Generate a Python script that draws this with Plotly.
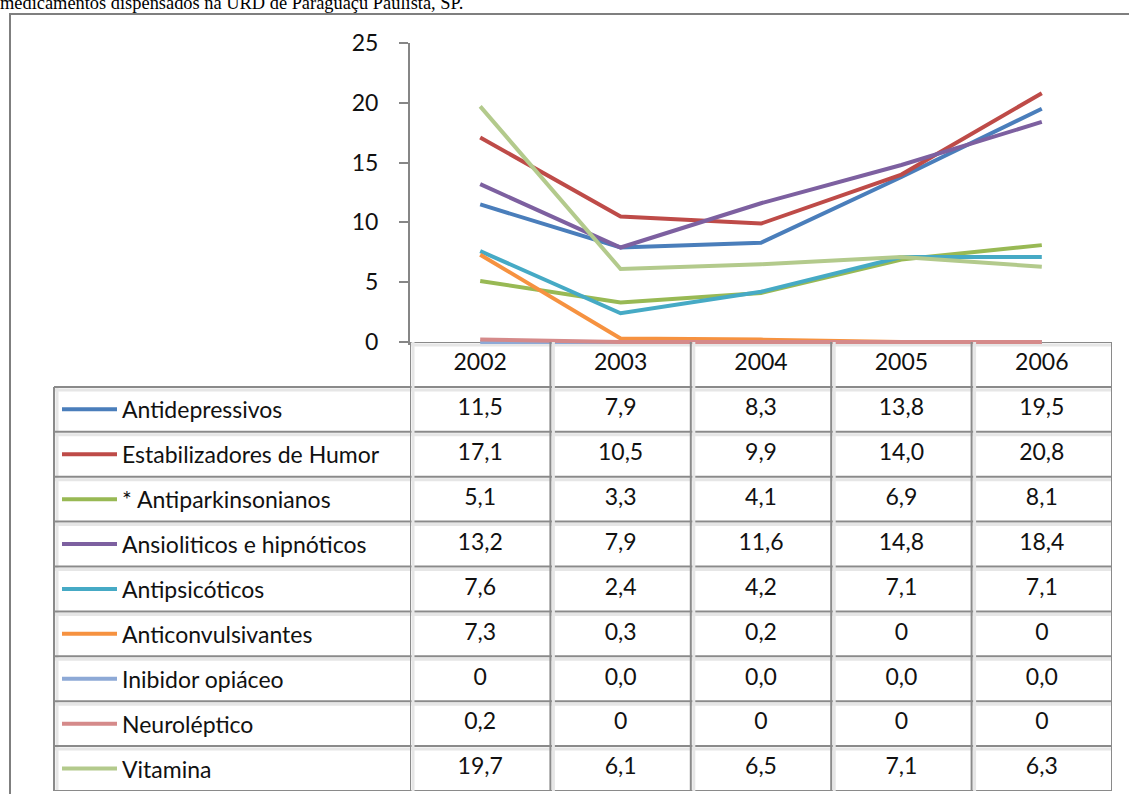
import plotly.graph_objects as go

W, H = 1129, 794

anos = ["2002", "2003", "2004", "2005", "2006"]

# valores como aparecem na tabela
antidepressivos = ["11,5", "7,9", "8,3", "13,8", "19,5"]
estabilizadores = ["17,1", "10,5", "9,9", "14,0", "20,8"]
antiparkinsonianos = ["5,1", "3,3", "4,1", "6,9", "8,1"]
ansioliticos = ["13,2", "7,9", "11,6", "14,8", "18,4"]
antipsicoticos = ["7,6", "2,4", "4,2", "7,1", "7,1"]
anticonvulsivantes = ["7,3", "0,3", "0,2", "0", "0"]
inibidor = ["0", "0,0", "0,0", "0,0", "0,0"]
neuroleptico = ["0,2", "0", "0", "0", "0"]
vitamina = ["19,7", "6,1", "6,5", "7,1", "6,3"]

nomes = ["Antidepressivos", "Estabilizadores de Humor", "* Antiparkinsonianos",
         "Ansioliticos e hipnóticos", "Antipsicóticos", "Anticonvulsivantes",
         "Inibidor opiáceo", "Neuroléptico", "Vitamina"]
series = [antidepressivos, estabilizadores, antiparkinsonianos, ansioliticos,
          antipsicoticos, anticonvulsivantes, inibidor, neuroleptico, vitamina]
cores = ["#4A7EBB", "#BE4B48", "#98B954", "#7D60A0", "#46AAC5",
         "#F69240", "#8DA9D6", "#D58A8A", "#B3CA8C"]

yticks = [0, 5, 10, 15, 20, 25]

FONT = "Lato"
FSIZE = 23
GRID = "#8A8A8A"
SHADOW = "#E6E6E6"


def px(x):
    return x / W


def py(y):
    return 1 - y / H


def num(s):
    return float(s.replace(",", "."))


fig = go.Figure()

# linhas do gráfico
for nome, vals, cor in zip(nomes, series, cores):
    fig.add_trace(go.Scatter(x=anos, y=[num(v) for v in vals], mode="lines", name=nome,
                             line=dict(color=cor, width=4), xaxis="x", yaxis="y",
                             hoverinfo="skip"))

# tabela de dados: cabeçalho (linha 0) + uma linha por série
fig.add_trace(go.Scatter(x=anos, y=[0] * len(anos), text=anos, mode="text",
                         textfont=dict(family=FONT, size=FSIZE, color="#111"),
                         xaxis="x", yaxis="y2", cliponaxis=False, hoverinfo="skip"))
for i, vals in enumerate(series, start=1):
    fig.add_trace(go.Scatter(x=anos, y=[i] * len(anos), text=vals, mode="text",
                             textfont=dict(family=FONT, size=FSIZE, color="#111"),
                             xaxis="x", yaxis="y2", cliponaxis=False, hoverinfo="skip"))

x0, x1 = 410, 1112
leg_left = 54
tab_bottom = 791
y_zero_px, y_top_px = 342, 43
ppu = (y_zero_px - y_top_px) / 25
ymin = -0.25
n = len(series)
row_px = (tab_bottom - y_zero_px) / (n + 1)
col_px = (x1 - x0) / len(anos)
dr = 3 / row_px   # deslocamento da sombra em linhas
dc = 3 / col_px   # deslocamento da sombra em colunas

shapes = []
# moldura externa
shapes.append(dict(type="rect", xref="paper", yref="paper", x0=px(10), x1=1.05,
                   y0=-0.05, y1=py(14), line=dict(color="#7F7F7F", width=2), layer="below"))


def hline(xa, xb, r, color, width):
    shapes.append(dict(type="line", xref="paper", yref="y2", x0=xa, x1=xb, y0=r, y1=r,
                       line=dict(color=color, width=width), layer="below"))


def vline_x(c, ra, rb, color, width):
    shapes.append(dict(type="line", xref="x", yref="y2", x0=c, x1=c, y0=ra, y1=rb,
                       line=dict(color=color, width=width), layer="below"))


def vline_paper(xp, ra, rb, color, width):
    shapes.append(dict(type="line", xref="paper", yref="y2", x0=xp, x1=xp, y0=ra, y1=rb,
                       line=dict(color=color, width=width), layer="below"))


# sombra suave das células
hline(px(x0), px(x1), -0.5 + dr, SHADOW, 3)
for r in range(n):
    hline(px(leg_left), px(x1), r + 0.5 + dr, SHADOW, 3)
for c in range(len(anos)):
    vline_x(c - 0.5 + dc, -0.5, n + 0.5, SHADOW, 3)
vline_paper(px(leg_left + 3), 0.5, n + 0.5, SHADOW, 3)
vline_x(len(anos) - 0.5 + dc, -0.5, n + 0.5, SHADOW, 3)
hline(px(leg_left), px(x1 + 3), n + 0.5 + dr, SHADOW, 3)

# grade da tabela
hline(px(x0), px(x1), -0.5, GRID, 2)
for r in range(n + 1):
    hline(px(leg_left), px(x1), r + 0.5, GRID, 2)
for c in range(len(anos) + 1):
    vline_x(c - 0.5, -0.5, n + 0.5, GRID, 2)
vline_paper(px(leg_left), 0.5, n + 0.5, GRID, 2)

# amostras de legenda
for i, cor in enumerate(cores, start=1):
    shapes.append(dict(type="line", xref="paper", yref="y2", x0=px(62), x1=px(117),
                       y0=i, y1=i, line=dict(color=cor, width=4)))

annotations = []
for i, nome in enumerate(nomes, start=1):
    annotations.append(dict(xref="paper", yref="y2", x=px(120), y=i, text=nome,
                            xanchor="left", yanchor="middle", showarrow=False,
                            font=dict(family=FONT, size=FSIZE, color="#111")))

fig.update_layout(
    width=W, height=H, margin=dict(l=0, r=0, t=0, b=0, pad=0, autoexpand=False),
    paper_bgcolor="white", plot_bgcolor="rgba(0,0,0,0)", showlegend=False,
    shapes=shapes, annotations=annotations,
    title=dict(text="medicamentos dispensados na URD de Paraguaçu Paulista, SP.",
               x=0, xanchor="left", xref="container", y=1 - 9 / H, yanchor="bottom",
               yref="container", font=dict(family="Liberation Serif", size=18.4, color="#000")),
    xaxis=dict(type="category", domain=[px(x0), px(x1)], range=[-0.5, 4.5],
               showticklabels=False, showgrid=False, zeroline=False, showline=False,
               ticks="", fixedrange=True, automargin=False),
    yaxis=dict(domain=[py(y_zero_px - ymin * ppu), py(y_top_px)], range=[ymin, 25],
               tickvals=yticks, ticks="outside", ticklen=9, tickwidth=2, tickcolor="#868686",
               showline=True, linecolor="#868686", linewidth=2, showgrid=False,
               zeroline=False, ticklabelstandoff=16, automargin=False,
               tickfont=dict(family=FONT, size=FSIZE, color="#111"), anchor="x"),
    yaxis2=dict(domain=[py(tab_bottom), py(y_zero_px)], range=[n + 0.5, -0.5],
                visible=False, showgrid=False, zeroline=False, anchor="x", automargin=False),
)

# sem margem no body, para a figura ocupar a janela inteira
fig.write_html("out.html", config={"displayModeBar": False},
               post_script="document.body.style.margin = '0';")
